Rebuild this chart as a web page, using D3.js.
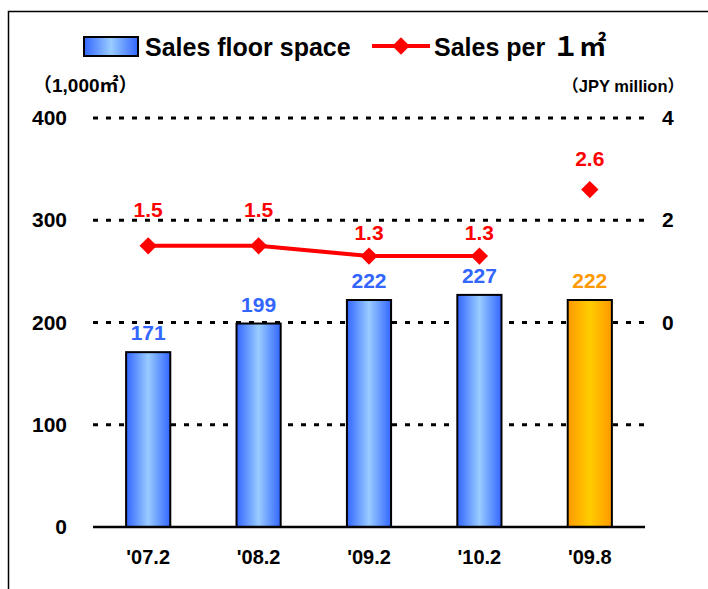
<!DOCTYPE html>
<html>
<head>
<meta charset="utf-8">
<script src="https://cdn.jsdelivr.net/npm/d3@7"></script>
<style>
  body { margin: 0; background: #fff; }
  text { font-family: "Liberation Sans", Arial, "Noto Sans CJK JP", sans-serif; }
</style>
</head>
<body>
<div id="chart-holder"></div>
<script>
// chart values
var periods = ["'07.2", "'08.2", "'09.2", "'10.2", "'09.8"];
var floorSpace = [171, 199, 222, 227, 222];
var salesPerM2 = [1.5, 1.5, 1.3, 1.3, 2.6];
var linked = [true, true, true, true, false];   // last point not joined to the line
var leftTicks = [0, 100, 200, 300, 400];
var rightTicks = [0, 2, 4];

// label nudges (px above the marker), as placed in the original
var redLabelLift = [36, 36, 23, 23, 31];

var width = 708, height = 589;

var svg = d3.select('#chart-holder')
    .append('svg')
    .attr('width', width)
    .attr('height', height);

// outer frame
svg.append('rect')
    .attr('x', 8.5).attr('y', 11.5)
    .attr('width', 760).attr('height', 640)
    .attr('fill', 'none')
    .attr('stroke', '#000')
    .attr('stroke-width', 1.5);

// gradients for the bars
var defs = svg.append('defs');
function hGradient(id, edge, mid) {
    var g = defs.append('linearGradient').attr('id', id)
        .attr('x1', '0%').attr('x2', '100%').attr('y1', '0%').attr('y2', '0%');
    g.append('stop').attr('offset', '0%').attr('stop-color', edge);
    g.append('stop').attr('offset', '50%').attr('stop-color', mid);
    g.append('stop').attr('offset', '100%').attr('stop-color', edge);
}
hGradient('blueGrad', '#3366ff', '#99ccff');
hGradient('orangeGrad', '#ff9900', '#ffcc00');

var x = d3.scaleBand().domain(periods).range([93, 645]).paddingInner(0.6).paddingOuter(0.3);
var yL = d3.scaleLinear().domain([0, 400]).range([527, 118]);
var yR = d3.scaleLinear().domain([-4, 4]).range([527, 118]);

// dotted gridlines
svg.append('g')
    .selectAll('line')
    .data(leftTicks.filter(function (d) { return d > 0; }))
    .enter()
    .append('line')
    .attr('x1', 93).attr('x2', 645)
    .attr('y1', function (d) { return yL(d); })
    .attr('y2', function (d) { return yL(d); })
    .attr('stroke', '#000')
    .attr('stroke-width', 3)
    .attr('stroke-dasharray', '5,8');

// left axis
var axL = svg.append('g')
    .attr('transform', 'translate(67,0)')
    .call(d3.axisLeft(yL).tickValues(leftTicks).tickSize(0).tickPadding(0));
axL.select('.domain').remove();
axL.selectAll('text')
    .attr('font-family', null)
    .attr('font-size', 21)
    .attr('font-weight', 'bold')
    .attr('fill', '#000');

// right axis
var axR = svg.append('g')
    .attr('transform', 'translate(662,0)')
    .call(d3.axisRight(yR).tickValues(rightTicks).tickSize(0).tickPadding(0));
axR.select('.domain').remove();
axR.selectAll('text')
    .attr('font-family', null)
    .attr('font-size', 21)
    .attr('font-weight', 'bold')
    .attr('fill', '#000');

// units
svg.append('text')
    .attr('x', 33).attr('y', 92)
    .attr('font-size', 19)
    .attr('font-weight', 'bold')
    .text('（1,000㎡）');
svg.append('text')
    .attr('x', 684).attr('y', 92)
    .attr('text-anchor', 'end')
    .attr('font-size', 16.5)
    .attr('font-weight', 'bold')
    .text('（JPY million）');

// bars
svg.append('g')
    .selectAll('rect')
    .data(periods)
    .enter()
    .append('rect')
    .attr('x', function (d) { return x(d); })
    .attr('y', function (d, i) { return yL(floorSpace[i]); })
    .attr('width', x.bandwidth())
    .attr('height', function (d, i) { return yL(0) - yL(floorSpace[i]); })
    .attr('fill', function (d, i) { return i === periods.length - 1 ? 'url(#orangeGrad)' : 'url(#blueGrad)'; })
    .attr('stroke', '#000')
    .attr('stroke-width', 2);

// baseline
svg.append('line')
    .attr('x1', 93).attr('x2', 645)
    .attr('y1', yL(0)).attr('y2', yL(0))
    .attr('stroke', '#000')
    .attr('stroke-width', 2.5);

// bar labels
svg.append('g')
    .selectAll('text')
    .data(periods)
    .enter()
    .append('text')
    .attr('x', function (d) { return x(d) + x.bandwidth() / 2; })
    .attr('y', function (d, i) { return yL(floorSpace[i]) - 12; })
    .attr('text-anchor', 'middle')
    .attr('font-size', 21)
    .attr('font-weight', 'bold')
    .attr('fill', function (d, i) { return i === periods.length - 1 ? '#ff9900' : '#3366ff'; })
    .text(function (d, i) { return floorSpace[i]; });

// category labels
svg.append('g')
    .selectAll('text')
    .data(periods)
    .enter()
    .append('text')
    .attr('x', function (d) { return x(d) + x.bandwidth() / 2; })
    .attr('y', 564)
    .attr('text-anchor', 'middle')
    .attr('font-size', 20)
    .attr('font-weight', 'bold')
    .text(function (d) { return d; });

// sales per m2 line
var pts = periods.map(function (d, i) {
    return { px: x(d) + x.bandwidth() / 2, py: yR(salesPerM2[i]), v: salesPerM2[i], i: i };
});
var line = d3.line().x(function (d) { return d.px; }).y(function (d) { return d.py; });
svg.append('path')
    .attr('d', line(pts.filter(function (d) { return linked[d.i]; })))
    .attr('fill', 'none')
    .attr('stroke', '#ff0000')
    .attr('stroke-width', 4);

var diamond = d3.symbol().type(d3.symbolSquare).size(150);
svg.append('g')
    .selectAll('path')
    .data(pts)
    .enter()
    .append('path')
    .attr('d', diamond)
    .attr('transform', function (d) { return 'translate(' + d.px + ',' + d.py + ') rotate(45)'; })
    .attr('fill', '#ff0000');

svg.append('g')
    .selectAll('text')
    .data(pts)
    .enter()
    .append('text')
    .attr('x', function (d) { return d.px; })
    .attr('y', function (d) { return d.py - redLabelLift[d.i] + 7; })
    .attr('text-anchor', 'middle')
    .attr('font-size', 21)
    .attr('font-weight', 'bold')
    .attr('fill', '#ff0000')
    .text(function (d) { return d.v.toFixed(1); });

// legend
var leg = svg.append('g');
leg.append('rect')
    .attr('x', 84).attr('y', 37)
    .attr('width', 54).attr('height', 19)
    .attr('fill', 'url(#blueGrad)')
    .attr('stroke', '#000')
    .attr('stroke-width', 2);
leg.append('text')
    .attr('x', 145).attr('y', 56)
    .attr('font-size', 25)
    .attr('font-weight', 'bold')
    .text('Sales floor space');
leg.append('line')
    .attr('x1', 372).attr('x2', 430)
    .attr('y1', 46).attr('y2', 46)
    .attr('stroke', '#ff0000')
    .attr('stroke-width', 4);
leg.append('path')
    .attr('d', diamond)
    .attr('transform', 'translate(401,46) rotate(45)')
    .attr('fill', '#ff0000');
var lt = leg.append('text')
    .attr('x', 434).attr('y', 56)
    .attr('font-size', 25)
    .attr('font-weight', 'bold');
lt.append('tspan').text('Sales per ');
lt.append('tspan').attr('font-size', 27).text('１㎡');
</script>
</body>
</html>
